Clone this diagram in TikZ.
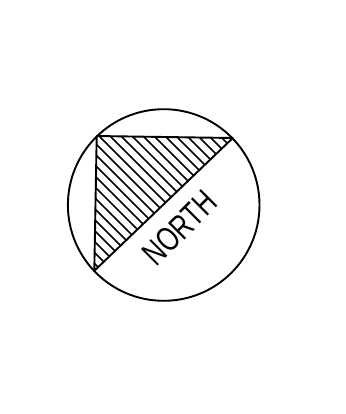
\documentclass[tikz,border=0pt]{standalone}
\usepackage{fontspec}
\setmainfont{Liberation Sans}
\tikzset{
  outline/.style={line width=1.9pt},
  hatchline/.style={line width=1.6pt},
  northlabel/.style={inner sep=0pt,rotate=45,font=\fontsize{34}{34}\selectfont,xscale=0.74}
}
\begin{document}
\begin{tikzpicture}[x=1pt,y=-1pt]
\useasboundingbox (0,0) rectangle (345,414);
\coordinate (A) at (96.7,136);
\coordinate (B) at (232.8,138);
\coordinate (C) at (94.3,270.8);
\begin{scope}
\clip (A) -- (B) -- (C) -- cycle;
\foreach \c in {-128,-117,...,180}{
  \draw[hatchline] (60,60+\c) -- (260,260+\c);
}
\end{scope}
\draw[outline,line join=round] (A) -- (B) -- (C) -- cycle;
\draw[outline] (163.7,205) circle[radius=95.8];
\node[northlabel] (north) at (179.5,228) {NORTH};
\end{tikzpicture}
\end{document}
